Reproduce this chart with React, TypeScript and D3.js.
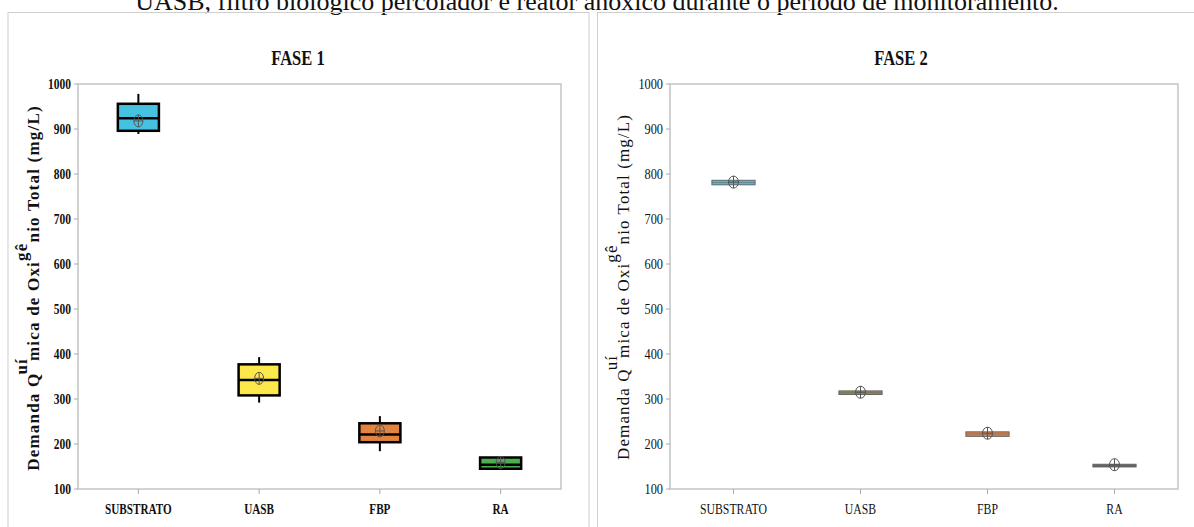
import React from "react";
import * as d3 from "d3";

const categories = ["SUBSTRATO", "UASB", "FBP", "RA"];
const yTicks = [100, 200, 300, 400, 500, 600, 700, 800, 900, 1000];

const fase1Min = [889, 292, 184, 145];
const fase1Q1 = [896, 308, 204, 145];
const fase1Median = [924, 342, 221, 154];
const fase1Q3 = [956, 377, 246, 170];
const fase1Max = [978, 393, 262, 173];
const fase1Mean = [918, 346, 229, 159];

const fase2Min = [775, 309, 216, 148];
const fase2Q1 = [776, 310, 217, 149];
const fase2Median = [781, 314, 222, 152];
const fase2Q3 = [786, 318, 227, 155];
const fase2Max = [787, 319, 228, 156];
const fase2Mean = [782, 315, 224, 154];

const fase1Colors = ["#45C2E0", "#FDE84B", "#E2843F", "#4CAE4F"];
const fase2Colors = ["#46BEE0", "#978D40", "#E07F48", "#56625A"];

const caption = "UASB, filtro biológico percolador e reator anóxico durante o período de monitoramento.";

const FONT = "'Liberation Serif', 'Times New Roman', serif";

function CText({ x, y, sx = 0.8, anchor = "middle", size, bold, children, fill = "#111" }: any) {
  return (
    <text
      transform={`translate(${x},${y}) scale(${sx},1)`}
      textAnchor={anchor}
      fontFamily={FONT}
      fontSize={size}
      fontWeight={bold ? "bold" : "normal"}
      fill={fill}
    >
      {children}
    </text>
  );
}

function Panel({ x0, x1, titleX, title, bold, mins, q1s, meds, q3s, maxs, means, colors, labelX, strokeBox, strokeW }: any) {
  const y = d3.scaleLinear().domain([100, 1000]).range([489, 84]);
  const x = d3.scaleBand().domain(categories).range([x0, x1]).padding(0);
  const bw = x.bandwidth() * 0.34;
  const tickSize = bold ? 14 : 14.5;
  const sx = bold ? 0.82 : 0.85;
  const erx = bold ? 4.5 : 5;
  return (
    <g>
      <CText x={titleX} y={65} size={22} bold sx={0.75}>{title}</CText>
      <rect x={x0} y={84} width={x1 - x0} height={405} fill="none" stroke="#c4c4c4" strokeWidth={1.5} />
      {yTicks.map((t) => (
        <g key={t}>
          <line x1={x0 - 4} x2={x0} y1={y(t)} y2={y(t)} stroke="#aaa" strokeWidth={1} />
          <CText x={x0 - 7} y={y(t) + 5} anchor="end" size={tickSize} bold={bold} sx={sx}>{t}</CText>
        </g>
      ))}
      {categories.map((c) => (
        <g key={c}>
          <line x1={x(c)! + x.bandwidth() / 2} x2={x(c)! + x.bandwidth() / 2} y1={489} y2={494} stroke="#aaa" strokeWidth={1} />
          <CText x={x(c)! + x.bandwidth() / 2} y={514} size={14} bold={bold} sx={bold ? 0.8 : 0.84}>{c}</CText>
        </g>
      ))}
      {categories.map((c, i) => {
        const cx = x(c)! + x.bandwidth() / 2;
        return (
          <g key={"b" + c}>
            <line x1={cx} x2={cx} y1={y(maxs[i])} y2={y(q3s[i])} stroke={strokeBox} strokeWidth={strokeW * 0.8} />
            <line x1={cx} x2={cx} y1={y(q1s[i])} y2={y(mins[i])} stroke={strokeBox} strokeWidth={strokeW * 0.8} />
            <rect x={cx - bw / 2} y={y(q3s[i])} width={bw} height={Math.max(1, y(q1s[i]) - y(q3s[i]))} fill={colors[i]} stroke={strokeBox} strokeWidth={strokeW} />
            <line x1={cx - bw / 2} x2={cx + bw / 2} y1={y(meds[i])} y2={y(meds[i])} stroke={strokeBox} strokeWidth={bold ? strokeW : 0.6} />
            <ellipse cx={cx} cy={y(means[i])} rx={erx} ry={6} fill="none" stroke="#555" strokeWidth={1} />
            <line x1={cx} x2={cx} y1={y(means[i]) - 6} y2={y(means[i]) + 6} stroke="#555" strokeWidth={1} />
            <line x1={cx - erx} x2={cx + erx} y1={y(means[i])} y2={y(means[i])} stroke="#555" strokeWidth={1} />
          </g>
        );
      })}
      <text
        transform={`translate(${labelX},${bold ? 288 : 287}) rotate(-90)`}
        textAnchor="middle"
        fontFamily={FONT}
        fontSize={17}
        fontWeight={bold ? "bold" : "normal"}
        letterSpacing={bold ? 1.2 : 1.1}
        fill="#111"
      >
        <tspan>Demanda Q</tspan>
        <tspan dy={-12} dx={-2}>uí</tspan>
        <tspan dy={12} dx={-3}>mica de Oxi</tspan>
        <tspan dy={-12}>gê</tspan>
        <tspan dy={12}>nio Total (mg/L)</tspan>
      </text>
    </g>
  );
}

export default function App() {
  return (
    <svg width={1194} height={527} style={{ position: "absolute", left: 0, top: 0, background: "#fff" }}>
      <rect x={0} y={0} width={1194} height={527} fill="#fff" />
      <text x={597} y={10} textAnchor="middle" fontFamily={FONT} fontSize={26} fill="#111">{caption}</text>
      <rect x={8} y={12.5} width={581} height={530} fill="none" stroke="#cfcfcf" strokeWidth={1} />
      <rect x={597.5} y={12.5} width={610} height={530} fill="none" stroke="#cfcfcf" strokeWidth={1} />
      <Panel x0={78} x1={561} titleX={298} title="FASE 1" bold mins={fase1Min} q1s={fase1Q1} meds={fase1Median} q3s={fase1Q3} maxs={fase1Max} means={fase1Mean} colors={fase1Colors} labelX={39} strokeBox="#000" strokeW={2.5} />
      <Panel x0={670} x1={1178} titleX={901} title="FASE 2" bold={false} mins={fase2Min} q1s={fase2Q1} meds={fase2Median} q3s={fase2Q3} maxs={fase2Max} means={fase2Mean} colors={fase2Colors} labelX={629} strokeBox="#666" strokeW={1} />
    </svg>
  );
}
